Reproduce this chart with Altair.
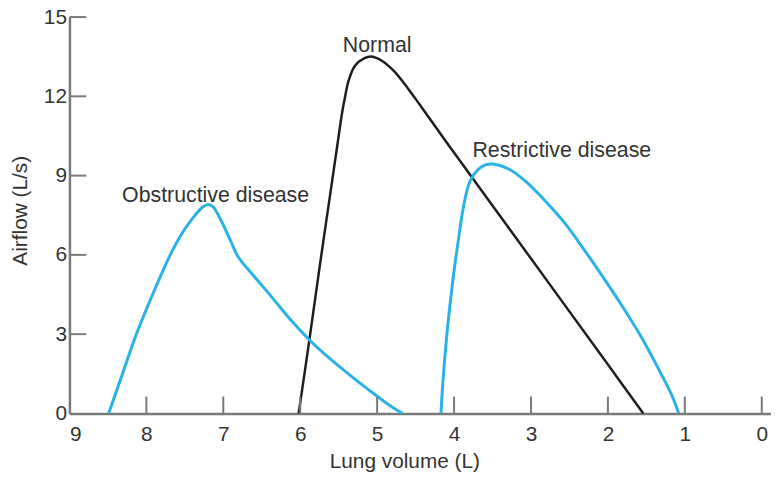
import altair as alt
import pandas as pd

# ---- data ----
normal_volume = [6.02, 5.88, 5.74, 5.60, 5.51, 5.46, 5.42, 5.37, 5.29, 5.17, 5.06,
                 4.93, 4.78, 4.60, 4.45, 4.11, 3.0, 2.0, 1.54]
normal_flow = [0, 2.8, 5.7, 8.5, 10.3, 11.3, 11.94, 12.6, 13.15, 13.44, 13.5,
               13.33, 12.95, 12.3, 11.7, 10.31, 5.86, 1.85, 0]

obstructive_volume = [8.49, 8.31, 8.14, 7.97, 7.80, 7.69, 7.54, 7.39, 7.30, 7.24, 7.18,
                      7.13, 7.03, 6.90, 6.81, 6.60, 6.38, 6.13, 5.87, 5.61, 5.35, 5.10,
                      4.84, 4.67]
obstructive_flow = [0, 1.5, 2.92, 4.15, 5.3, 6.0, 6.8, 7.42, 7.72, 7.86, 7.9,
                    7.81, 7.31, 6.5, 5.94, 5.19, 4.44, 3.56, 2.75, 2.06, 1.44, 0.87,
                    0.31, 0]

restrictive_volume = [4.17, 4.145, 4.093, 4.02, 3.95, 3.87, 3.79, 3.68, 3.60, 3.51, 3.29,
                      3.08, 2.82, 2.56, 2.31, 2.05, 1.79, 1.54, 1.32, 1.17, 1.08]
restrictive_flow = [0, 1.2, 3.0, 4.94, 6.44, 7.94, 8.81, 9.25, 9.40, 9.44, 9.25,
                    8.81, 8.06, 7.2, 6.2, 5.1, 3.95, 2.76, 1.56, 0.69, 0]

label_text = ["Normal", "Obstructive disease", "Restrictive disease"]
label_volume = [5.0, 7.10, 2.60]
label_flow = [13.69, 8.0, 9.69]

x_tick_values = [0, 1, 2, 3, 4, 5, 6, 7, 8]
x_label_values = [0, 1, 2, 3, 4, 5, 6, 7, 8, 9]
y_tick_values = [3, 6, 9, 12, 15]
y_label_values = [0, 3, 6, 9, 12, 15]

# ---- tables ----
rows = []
for name, kind, xs, ys in [
    ("Normal", "normal", normal_volume, normal_flow),
    ("Obstructive disease", "disease", obstructive_volume, obstructive_flow),
    ("Restrictive disease", "disease", restrictive_volume, restrictive_flow),
]:
    for i, (x, y) in enumerate(zip(xs, ys)):
        rows.append({"curve": name, "kind": kind, "volume": x, "flow": y, "order": i})
curves = pd.DataFrame(rows)
labels = pd.DataFrame({"text": label_text, "volume": label_volume, "flow": label_flow})
xticks = pd.DataFrame({"volume": x_tick_values})
yticks = pd.DataFrame({"flow": y_tick_values})

FONT = "Liberation Sans"
AXIS_GRAY = "#7a7a7a"
TEXT = "#333333"

xscale = alt.Scale(domain=[-0.12, 9], reverse=True, nice=False, zero=False)
yscale = alt.Scale(domain=[0, 15], nice=False, zero=False)

lines = alt.Chart(curves).mark_line(interpolate="catmull-rom").encode(
    x=alt.X("volume:Q", scale=xscale,
            axis=alt.Axis(values=x_label_values, format="d", title="Lung volume (L)",
                          labelPadding=10, titleX=338, titleY=55,
                          titleAlign="center", titleBaseline="alphabetic")),
    y=alt.Y("flow:Q", scale=yscale,
            axis=alt.Axis(values=y_label_values, format="d", title="Airflow (L/s)",
                          labelPadding=3, titleAngle=270, titleX=-43, titleY=195,
                          titleAlign="center", titleBaseline="alphabetic")),
    color=alt.Color("kind:N", scale=alt.Scale(domain=["normal", "disease"],
                                              range=["#1e1e1e", "#29b2e8"]), legend=None),
    strokeWidth=alt.StrokeWidth("kind:N", scale=alt.Scale(domain=["normal", "disease"],
                                                         range=[2.5, 3.0]), legend=None),
    detail="curve:N",
    order="order:Q",
)

xtick_layer = alt.Chart(xticks).mark_rule(color=AXIS_GRAY, strokeWidth=2).encode(
    x=alt.X("volume:Q", scale=xscale),
    y=alt.value(400),
    y2=alt.value(383),
)

ytick_layer = alt.Chart(yticks).mark_rule(color=AXIS_GRAY, strokeWidth=2).encode(
    y=alt.Y("flow:Q", scale=yscale),
    x=alt.value(0),
    x2=alt.value(17),
)

text_layer = alt.Chart(labels).mark_text(
    font=FONT, fontSize=21.5, color=TEXT, align="center", baseline="alphabetic"
).encode(
    x=alt.X("volume:Q", scale=xscale),
    y=alt.Y("flow:Q", scale=yscale),
    text="text:N",
)

chart = alt.layer(lines, xtick_layer, ytick_layer, text_layer).properties(
    width=708,
    height=400,
    autosize=alt.AutoSizeParams(type="none"),
    padding={"left": 62, "top": 7, "right": 0, "bottom": 60},
).configure_axis(
    labelFont=FONT,
    labelFontSize=21,
    labelColor=TEXT,
    titleFont=FONT,
    titleFontSize=21,
    titleFontWeight="normal",
    titleColor=TEXT,
    domainColor=AXIS_GRAY,
    domainWidth=2.5,
    ticks=False,
    tickSize=0,
    grid=False,
).configure_view(strokeWidth=0)

chart.save("out.html", embed_options={"renderer": "svg", "actions": False})
